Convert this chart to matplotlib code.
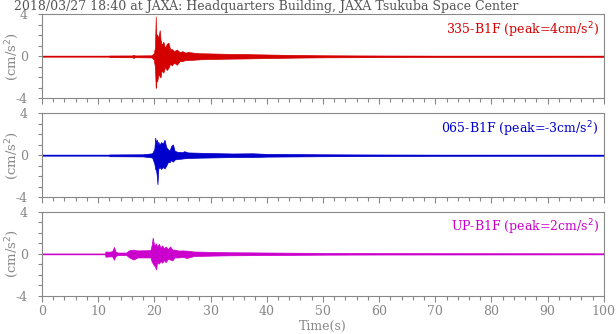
import matplotlib
matplotlib.use("Agg")
import matplotlib.pyplot as plt
from matplotlib.ticker import MultipleLocator

plt.rcParams['font.family'] = ['DejaVu Serif']
plt.rcParams['axes.unicode_minus'] = False

title = "2018/03/27 18:40 at JAXA: Headquarters Building, JAXA Tsukuba Space Center"
labels = ["335-B1F (peak=4cm/s$^2$)", "065-B1F (peak=-3cm/s$^2$)", "UP-B1F (peak=2cm/s$^2$)"]
colors = ["#d40000", "#0000cc", "#cc00cc"]

# envelope of each trace (time s, upper, lower in cm/s^2)
t_335 = [0, 11.9, 12.0, 16.0, 16.3, 16.6, 19.5, 19.9, 20.1, 20.25, 20.3, 20.5, 20.7,
         20.95, 21.1, 21.3, 21.6, 21.9, 22.2, 22.5, 22.8, 23.1, 23.5, 24.0, 24.5, 25.0,
         25.5, 26.0, 27.0, 28.0, 30.0, 33.0, 36.0, 40.0, 45.0, 50.0, 60.0, 70.0, 100.0]
up_335 = [0.02, 0.02, 0.07, 0.08, 0.14, 0.08, 0.1, 0.3, 0.8, 3.8, 2.0, 2.1, 1.7,
          2.5, 1.6, 1.1, 1.4, 0.8, 1.2, 1.3, 0.7, 0.7, 0.5, 0.65, 0.4, 0.5, 0.35, 0.42,
          0.35, 0.3, 0.28, 0.24, 0.22, 0.18, 0.13, 0.1, 0.07, 0.05, 0.04]
lo_335 = [-0.02, -0.02, -0.07, -0.08, -0.14, -0.08, -0.1, -0.3, -1.0, -3.0, -2.2,
          -2.4, -1.7, -1.9, -2.0, -1.3, -1.55, -1.0, -1.3, -1.1, -0.7, -0.85, -0.6, -0.8,
          -0.45, -0.45, -0.35, -0.35, -0.32, -0.28, -0.25, -0.22, -0.2, -0.16, -0.12,
          -0.09, -0.07, -0.05, -0.04]

t_065 = [0, 11.8, 12.0, 18.0, 19.6, 20.0, 20.15, 20.3, 20.45, 20.55, 20.7, 20.9,
         21.2, 21.5, 21.8, 22.1, 22.4, 22.7, 23.0, 23.3, 23.6, 24.0, 25.0, 25.3, 26.0,
         28.0, 30.0, 34.0, 37.5, 40.0, 45.0, 50.0, 60.0, 70.0, 100.0]
up_065 = [0.02, 0.02, 0.08, 0.1, 0.2, 0.6, 1.7, 1.2, 1.5, 1.0, 1.3, 1.0, 1.27, 1.1,
          1.5, 0.8, 0.6, 0.45, 0.9, 1.05, 0.45, 0.35, 0.3, 0.4, 0.28, 0.25, 0.22, 0.18,
          0.2, 0.14, 0.12, 0.1, 0.07, 0.05, 0.03]
lo_065 = [-0.02, -0.02, -0.08, -0.1, -0.2, -0.8, -1.3, -1.4, -2.0, -2.75, -1.3,
          -1.1, -1.3, -1.1, -1.25, -1.0, -0.65, -0.65, -0.45, -0.6, -0.4, -0.35, -0.3,
          -0.28, -0.25, -0.22, -0.2, -0.16, -0.16, -0.12, -0.1, -0.08, -0.06, -0.04,
          -0.03]

t_up = [0, 11.2, 11.3, 12.0, 12.5, 12.8, 13.1, 13.5, 15.0, 15.4, 15.7, 16.3, 17.0,
        19.3, 19.55, 19.7, 19.9, 20.1, 20.3, 20.5, 20.8, 21.1, 21.4, 21.7, 22.0, 22.4,
        22.8, 23.2, 23.6, 24.4, 25.0, 25.8, 27.0, 30.0, 33.0, 40.0, 45.0, 50.0, 60.0,
        100.0]
up_up = [0.02, 0.02, 0.22, 0.2, 0.25, 0.65, 0.2, 0.12, 0.12, 0.3, 0.35, 0.4, 0.32,
         0.35, 0.9, 1.55, 1.0, 0.8, 1.0, 0.7, 0.95, 0.6, 0.8, 0.5, 0.7, 0.45, 0.7, 0.4,
         0.4, 0.3, 0.32, 0.3, 0.22, 0.18, 0.15, 0.12, 0.1, 0.08, 0.06, 0.04]
lo_up = [-0.02, -0.02, -0.28, -0.25, -0.25, -0.57, -0.2, -0.12, -0.12, -0.3, -0.4,
         -0.55, -0.35, -0.35, -0.8, -0.9, -1.1, -1.2, -1.5, -0.8, -0.95, -0.7, -0.85,
         -0.6, -0.8, -0.5, -0.55, -0.64, -0.35, -0.35, -0.3, -0.4, -0.22, -0.18, -0.15,
         -0.12, -0.1, -0.08, -0.06, -0.04]

traces = [(t_335, up_335, lo_335), (t_065, up_065, lo_065), (t_up, up_up, lo_up)]

gray = "#888888"
fig = plt.figure(figsize=(6.16, 3.34), dpi=100)
bottoms = [0.7057, 0.4093, 0.1147]
axes = [fig.add_axes([0.0682, b, 0.912, 0.251]) for b in bottoms]

for ax, (t, up, lo), lab, c in zip(axes, traces, labels, colors):
    ax.fill_between(t, lo, up, color=c, lw=0.5)
    ax.plot([0, 100], [0, 0], color=c, lw=1.0)
    ax.set_xlim(0, 100)
    ax.set_ylim(-4, 4)
    ax.xaxis.set_major_locator(MultipleLocator(10))
    ax.xaxis.set_minor_locator(MultipleLocator(2))
    ax.yaxis.set_major_locator(MultipleLocator(4))
    ax.yaxis.set_minor_locator(MultipleLocator(1))
    ax.tick_params(which="both", direction="out", colors=gray, labelcolor=gray,
                   labelsize=9, width=0.8, top=False, right=False)
    ax.tick_params(axis="x", which="major", length=4, pad=3)
    ax.tick_params(axis="x", which="minor", length=3)
    ax.tick_params(axis="y", which="both", length=3, pad=7)
    for s in ax.spines.values():
        s.set_color(gray)
        s.set_linewidth(0.8)
    ax.set_ylabel("(cm/s$^2$)", color=gray, fontsize=9.5, va="center")
    ax.yaxis.set_label_coords(-0.053, 0.5)
    ax.text(0.991, 0.93, lab, transform=ax.transAxes, ha="right", va="top",
            color=c, fontsize=9)
    if ax is not axes[-1]:
        ax.tick_params(axis="x", labelbottom=False)

axes[-1].set_xlabel("Time(s)", color=gray, fontsize=9, labelpad=1)
fig.text(0.023, 0.999, title, ha="left", va="top", color="#555555", fontsize=9)

fig.savefig("out.png", dpi=100)
